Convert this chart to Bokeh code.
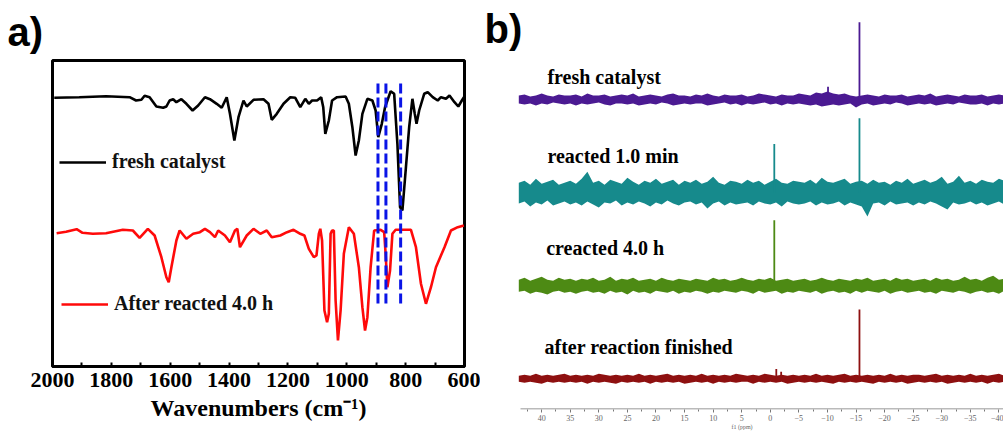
from bokeh.plotting import figure
from bokeh.models import Range1d, Legend, LegendItem, FixedTicker
from bokeh.layouts import row, column
from bokeh.embed import file_html
from bokeh.resources import INLINE
from bokeh.core.properties import value

# ---------------- a) FT-IR spectra ----------------
wn_fresh = [1994, 1909, 1818, 1738, 1716, 1698, 1687, 1670, 1647, 1624, 1613, 1602, 1590, 1579,
            1562, 1545, 1524, 1505, 1482, 1465, 1442, 1425, 1408, 1397, 1382, 1368, 1351, 1340,
            1317, 1283, 1266, 1255, 1238, 1215, 1192, 1175, 1158, 1141, 1129, 1118, 1101, 1087,
            1080, 1073, 1061, 1050, 1033, 1004, 993, 981, 970, 959, 947, 930, 913, 902, 893, 881,
            870, 862, 851, 839, 828, 819, 811, 799, 788, 777, 769, 763, 754, 737, 725, 708, 691,
            680, 663, 651, 634, 621, 609, 602]
t_fresh = [266.7, 267.3, 268.3, 267.3, 264.0, 264.7, 268.7, 267.3, 258.0, 256.7, 258.0, 264.0, 265.3, 262.3,
           265.3, 260.7, 254.0, 259.0, 267.3, 265.3, 260.7, 256.7, 267.3, 250.7, 224.0, 247.3, 264.0, 258.0,
           264.7, 265.3, 260.7, 244.7, 250.7, 260.7, 267.3, 266.7, 257.3, 265.7, 260.7, 264.0, 264.0, 267.3,
           257.3, 230.7, 244.0, 264.0, 267.3, 268.0, 260.7, 237.3, 209.0, 224.0, 250.7, 265.7, 264.0, 254.0, 227.3, 240.7,
           257.3, 264.0, 273.3, 270.7, 220.7, 157.3, 154.0, 197.3, 237.3, 265.7, 250.7, 240.7, 254.0, 270.7, 272.3, 267.3, 264.0,
           267.3, 265.7, 269.0, 262.3, 258.0, 264.0, 267.3]

wn_after = [1986, 1954, 1918, 1898, 1863, 1818, 1761, 1727, 1704, 1676, 1653, 1630, 1613, 1605, 1596,
            1579, 1568, 1545, 1522, 1499, 1482, 1465, 1448, 1437, 1414, 1397, 1380, 1372, 1363, 1340,
            1317, 1294, 1272, 1255, 1226, 1203, 1181, 1158, 1144, 1129, 1112, 1103, 1095, 1090, 1084,
            1076, 1067, 1061, 1055, 1050, 1044, 1038, 1030, 1021, 1010, 993, 976, 959, 947, 938, 930,
            919, 907, 885, 873, 868, 862, 853, 845, 834, 782, 765, 748, 731, 714, 697, 668, 646, 623, 602]
t_after = [131.3, 132.7, 135.3, 131.7, 130.7, 131.3, 134.7, 134.0, 126.7, 135.7, 129.0, 107.3, 87.3, 82.3, 97.3,
           124.0, 134.0, 125.7, 130.7, 132.3, 135.7, 132.3, 127.3, 134.0, 129.0, 122.3, 134.0, 135.7, 117.3, 129.0,
           135.7, 130.7, 134.0, 127.3, 129.0, 132.3, 134.7, 130.7, 129.0, 115.7, 107.3, 109.0, 130.7, 135.7, 124.0,
           54.0, 42.3, 50.7, 130.7, 134.0, 134.0, 64.0, 24.0, 54.0, 110.7, 137.3, 130.7, 97.3, 57.3, 34.0, 47.3,
           97.3, 134.0, 134.7, 132.3, 110.7, 77.3, 94.0, 130.7, 134.7, 134.7, 117.3, 80.7, 60.7, 77.3, 97.3, 117.3, 134.0, 137.3, 139.0]

# band positions marked with dashed guides
marker_wn = [894, 867, 817]
marker_lo, marker_hi = 61, 281

ir_ticks = [2000, 1800, 1600, 1400, 1200, 1000, 800, 600]
ir_minor = [1900, 1700, 1500, 1300, 1100, 900, 700]

# ---------------- b) 31P NMR spectra ----------------
nmr_names = ["fresh catalyst", "reacted 1.0 min", "creacted 4.0 h", "after reaction finished"]
nmr_colors = ["#4b1a92", "#168a8c", "#4d8a14", "#8e1010"]
nmr_offsets = [313, 219, 125, 31]
nmr_label_x = [39.0, 39.0, 39.2, 39.5]
nmr_label_y = [336, 256, 163, 63]

# spectral window shown on the ppm axis
ppm_start, ppm_end = 43.7, -40.8

# noise envelope (upper / lower excursions) every 1 ppm from 44 to -41 ppm
ppm_grid = list(range(44, -42, -1))
hi_fresh = [4, 5, 3, 4, 6, 4, 3, 5, 4, 4, 5, 3, 6, 4, 4, 5, 3, 4, 5, 4, 6, 3, 4, 5, 4, 3, 5, 6, 4, 4,
            3, 5, 4, 6, 4, 3, 5, 4, 4, 5, 3, 4, 6, 5, 4, 3, 5, 4, 4, 6, 5, 4, 7, 6, 8, 6, 5, 6, 4, 3,
            4, 5, 4, 3, 5, 4, 4, 5, 3, 4, 5, 4, 6, 3, 4, 5, 4, 3, 5, 4, 4, 5, 3, 4, 5, 4]
lo_fresh = [-4, -5, -4, -6, -4, -5, -3, -4, -5, -4, -6, -4, -5, -4, -3, -5, -6, -4, -4, -5,
            -4, -6, -5, -4, -5, -3, -4, -6, -5, -4, -5, -4, -4, -6, -5, -4, -3, -5, -4, -6,
            -4, -5, -4, -3, -5, -4, -6, -4, -5, -4, -5, -6, -5, -7, -6, -5, -6, -5, -4, -8,
            -5, -4, -6, -5, -4, -5, -3, -4, -6, -5, -4, -5, -4, -6, -5, -4, -5, -3, -4, -5,
            -5, -4, -6, -4, -5, -4]
hi_1min = [10, 12, 8, 14, 9, 11, 13, 8, 10, 12, 9, 14, 21, 10, 12, 8, 13, 11, 9, 15,
           11, 8, 12, 10, 14, 9, 11, 13, 8, 12, 10, 13, 9, 11, 16, 10, 8, 12, 11, 9,
           13, 10, 12, 8, 11, 14, 10, 9, 12, 11, 10, 13, 9, 15, 11, 10, 12, 14, 9, 11,
           12, 9, 13, 10, 11, 8, 12, 10, 14, 9, 11, 13, 10, 12, 16, 9, 11, 17, 10, 12,
           9, 13, 11, 10, 14, 12]
lo_1min = [-11, -9, -14, -10, -12, -8, -13, -11, -9, -12, -10, -13, -9, -12, -15, -10, -11, -8, -13, -10,
           -12, -9, -11, -14, -10, -12, -8, -11, -13, -10, -9, -12, -10, -16, -11, -9, -13, -10, -12, -11,
           -10, -13, -9, -11, -12, -10, -14, -9, -11, -12, -11, -9, -13, -10, -12, -11, -9, -13, -10, -12,
           -14, -24, -11, -10, -13, -9, -12, -11, -10, -13, -10, -12, -9, -11, -14, -17, -10, -12, -11, -9,
           -12, -10, -13, -11, -9, -12]
hi_4h = [6, 8, 5, 7, 9, 6, 5, 8, 6, 7, 5, 7, 6, 8, 5, 6, 9, 5, 7, 6, 8, 5, 6, 7, 5, 8, 6, 5, 7, 6,
         5, 7, 6, 5, 8, 6, 7, 5, 6, 8, 6, 5, 7, 6, 8, 5, 6, 7, 5, 6, 7, 5, 6, 8, 6, 5, 7, 6, 5, 7,
         6, 8, 5, 6, 7, 5, 8, 6, 7, 5, 6, 7, 5, 8, 6, 7, 5, 6, 9, 6, 7, 5, 8, 10, 6, 7]
lo_4h = [-6, -5, -8, -6, -7, -9, -6, -5, -7, -6, -8, -6, -5, -7, -6, -8, -5, -7, -6, -9,
         -5, -7, -6, -8, -5, -6, -7, -5, -8, -6, -7, -5, -6, -8, -6, -7, -5, -6, -7, -5,
         -6, -8, -5, -7, -6, -5, -8, -6, -7, -5, -6, -7, -5, -8, -6, -5, -7, -6, -8, -5,
         -7, -5, -6, -7, -5, -8, -6, -5, -7, -6, -5, -7, -6, -8, -5, -6, -7, -5, -6, -8,
         -6, -5, -7, -6, -8, -5]
hi_end = [3, 4, 3, 5, 3, 4, 3, 4, 5, 3, 4, 3, 4, 3, 5, 4, 3, 4, 3, 4, 3, 5, 3, 4, 3, 4, 5, 3, 4, 3,
          4, 3, 5, 3, 4, 3, 4, 3, 5, 4, 3, 4, 3, 5, 4, 3, 4, 3, 4, 3, 4, 3, 5, 3, 4, 3, 4, 5, 3, 4,
          3, 4, 3, 4, 3, 5, 3, 4, 3, 4, 4, 3, 4, 5, 3, 4, 3, 4, 3, 5, 3, 4, 3, 4, 5, 3]
lo_end = [-3, -4, -3, -4, -5, -3, -4, -3, -4, -3, -4, -3, -5, -3, -4, -3, -4, -5, -3, -4,
          -3, -4, -3, -5, -3, -4, -3, -4, -3, -5, -4, -3, -4, -3, -5, -3, -4, -3, -4, -3,
          -3, -5, -3, -4, -3, -4, -3, -5, -4, -3, -4, -3, -4, -3, -4, -5, -3, -4, -3, -4,
          -3, -4, -5, -3, -4, -3, -4, -3, -5, -4, -3, -4, -3, -4, -3, -5, -4, -3, -4, -3,
          -4, -3, -5, -3, -4, -3]
nmr_hi = [hi_fresh, hi_1min, hi_4h, hi_end]
nmr_lo = [lo_fresh, lo_1min, lo_4h, lo_end]

# resolved signals: chemical shift (ppm) and height above each baseline
peak_ppm = [[-15.6, -10.1], [-0.7, -15.6], [-0.7], [-15.6, -1.05, -1.9]]
peak_height = [[78, 13], [49, 75], [66], [70, 10, 7]]

nmr_ticks = [40, 35, 30, 25, 20, 15, 10, 5, 0, -5, -10, -15, -20, -25, -30, -35, -40]
nmr_minor = [42.5, 37.5, 32.5, 27.5, 22.5, 17.5, 12.5, 7.5, 2.5, -2.5, -7.5, -12.5,
             -17.5, -22.5, -27.5, -32.5, -37.5]

SERIF = "Liberation Serif"
SANS = "Liberation Sans"

# ---------- panel a ----------
pa = figure(width=480, height=432, x_range=Range1d(2000, 600), y_range=Range1d(-2, 304),
            output_backend="svg", toolbar_location=None,
            min_border_left=52, min_border_right=16, min_border_top=60, min_border_bottom=66)
pa.title.text = "a)"
pa.title.text_font = SANS
pa.title.text_font_style = "bold"
pa.title.text_font_size = "40px"
pa.title.text_color = "black"
pa.title.align = "left"
pa.title.offset = -45
pa.title.standoff = 13
pa.grid.visible = False
pa.yaxis.visible = False
pa.outline_line_color = "black"
pa.outline_line_width = 3
pa.background_fill_color = "white"
pa.border_fill_color = "white"

ax = pa.xaxis[0]
ax.ticker = FixedTicker(ticks=ir_ticks, minor_ticks=ir_minor)
ax.axis_line_width = 3
ax.major_tick_in = 4
ax.major_tick_out = 0
ax.minor_tick_in = 4
ax.minor_tick_out = 0
ax.major_tick_line_width = 2
ax.minor_tick_line_width = 2
ax.major_label_text_font = SERIF
ax.major_label_text_font_style = "bold"
ax.major_label_text_font_size = "22px"
ax.major_label_text_color = "black"
ax.major_label_standoff = 6
ax.axis_label = "Wavenumbers (cm\u207b\u00b9)"
ax.axis_label_text_font = SERIF
ax.axis_label_text_font_style = "bold"
ax.axis_label_text_font_size = "24px"
ax.axis_label_text_color = "black"
ax.axis_label_standoff = 5

r_fresh = pa.line(wn_fresh, t_fresh, line_color="black", line_width=2.6)
r_after = pa.line(wn_after, t_after, line_color="#ff0a0a", line_width=2.6)
pa.segment(x0=marker_wn, y0=[marker_lo] * 3, x1=marker_wn, y1=[marker_hi] * 3,
           line_color="#0a14e6", line_width=3, line_dash="10 4")

for rend, lab, loc in [(r_fresh, "fresh catalyst", (7, 193)),
                       (r_after, "After reacted 4.0 h", (9, 51))]:
    leg = Legend(items=[LegendItem(label=lab, renderers=[rend])], location=loc,
                 border_line_color=None, background_fill_alpha=0, padding=0, margin=0,
                 spacing=0, glyph_width=47, glyph_height=20, label_height=20,
                 label_standoff=6, label_text_font=SERIF, label_text_font_style="bold",
                 label_text_font_size="20px", label_text_color="#111111")
    pa.add_layout(leg)

# ---------- panel b ----------
pb = figure(width=523, height=432, x_range=Range1d(50.7, ppm_end), y_range=Range1d(0, 413),
            output_backend="svg", toolbar_location=None,
            min_border_left=0, min_border_right=0, min_border_top=0, min_border_bottom=19)
pb.title.visible = False
pb.grid.visible = False
pb.yaxis.visible = False
pb.outline_line_color = None
pb.background_fill_color = "white"
pb.border_fill_color = "white"

bx = pb.xaxis[0]
bx.ticker = FixedTicker(ticks=nmr_ticks, minor_ticks=nmr_minor)
bx.axis_line_color = None
bx.major_tick_line_color = "#777777"
bx.minor_tick_line_color = "#777777"
bx.major_tick_in = 0
bx.major_tick_out = 3
bx.minor_tick_in = 0
bx.minor_tick_out = 2
bx.major_label_text_font = SERIF
bx.major_label_text_font_size = "8px"
bx.major_label_text_color = "#666666"
bx.major_label_standoff = 2
bx.axis_label = "f1 (ppm)"
bx.axis_label_text_font = SERIF
bx.axis_label_text_font_style = "normal"
bx.axis_label_text_font_size = "6px"
bx.axis_label_text_color = "#666666"
bx.axis_label_standoff = 0

# ppm axis baseline spans only the acquired window
pb.segment(x0=[ppm_start], y0=[0.5], x1=[ppm_end], y1=[0.5], line_color="#777777", line_width=1.2)

for off, hi, lo, col, pk, ph in zip(nmr_offsets, nmr_hi, nmr_lo, nmr_colors, peak_ppm, peak_height):
    # noise band between the upper and lower excursions
    pb.varea(x=ppm_grid, y1=[off + h for h in hi], y2=[off + l for l in lo], fill_color=col)
    pb.segment(x0=pk, y0=[off] * len(pk), x1=pk, y1=[off + h for h in ph],
               line_color=col, line_width=1.8)

pb.text(x=nmr_label_x, y=nmr_label_y, text=nmr_names,
        text_font=value(SERIF), text_font_style="bold", text_font_size="20px",
        text_color="black", text_baseline="middle", text_align="left")

pb.text(x=[50.0], y=[384], text=["b)"], text_font=value(SANS), text_font_style="bold",
        text_font_size="40px", text_color="black", text_baseline="alphabetic")

layout = row(column(pa), column(pb))
open("out.html", "w").write(file_html(layout, INLINE))
